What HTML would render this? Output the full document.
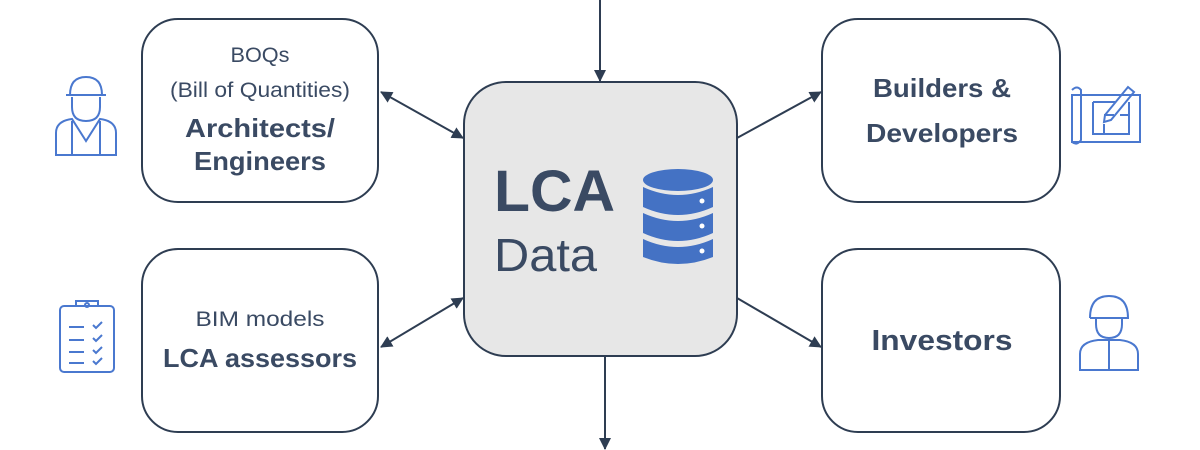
<!DOCTYPE html>
<html><head><meta charset="utf-8"><style>
html,body{margin:0;padding:0;background:#fff;}
svg{display:block;}
text{font-family:"Liberation Sans",sans-serif;fill:#3a4a63;}
</style></head><body>
<svg width="1200" height="450" viewBox="0 0 1200 450" xmlns="http://www.w3.org/2000/svg">
<defs>
<marker id="a" markerWidth="12" markerHeight="12" refX="11" refY="6" orient="auto-start-reverse" markerUnits="userSpaceOnUse">
<path d="M0,0 L12,6 L0,12 z" fill="#2e3d52"/></marker>
</defs>
<g stroke="#2e3d52" stroke-width="2" fill="none">
<rect x="142" y="19" width="236" height="183" rx="36" fill="#fff"/>
<rect x="142" y="249" width="236" height="183" rx="36" fill="#fff"/>
<rect x="822" y="19" width="238" height="183" rx="36" fill="#fff"/>
<rect x="822" y="249" width="238" height="183" rx="36" fill="#fff"/>
<rect x="464" y="82" width="273" height="274" rx="42" fill="#e7e7e7"/>
<line x1="600" y1="0" x2="600" y2="81" marker-end="url(#a)"/>
<line x1="605" y1="356" x2="605" y2="449" marker-end="url(#a)"/>
<line x1="381" y1="92" x2="463" y2="138" marker-start="url(#a)" marker-end="url(#a)"/>
<line x1="381" y1="347" x2="463" y2="298" marker-start="url(#a)" marker-end="url(#a)"/>
<line x1="737" y1="138" x2="821" y2="92" marker-end="url(#a)"/>
<line x1="737" y1="298" x2="821" y2="347" marker-end="url(#a)"/>
</g>
<g text-anchor="middle">
<text x="260" y="62" font-size="21" textLength="59" lengthAdjust="spacingAndGlyphs">BOQs</text>
<text x="260" y="97" font-size="21" textLength="180" lengthAdjust="spacingAndGlyphs">(Bill of Quantities)</text>
<text x="260" y="137" font-size="26" font-weight="bold" textLength="150" lengthAdjust="spacingAndGlyphs">Architects/</text>
<text x="260" y="170" font-size="26" font-weight="bold" textLength="132" lengthAdjust="spacingAndGlyphs">Engineers</text>
<text x="260" y="326" font-size="21" textLength="129" lengthAdjust="spacingAndGlyphs">BIM models</text>
<text x="260" y="367" font-size="26" font-weight="bold" textLength="194" lengthAdjust="spacingAndGlyphs">LCA assessors</text>
<text x="942" y="97" font-size="26" font-weight="bold" textLength="138" lengthAdjust="spacingAndGlyphs">Builders &amp;</text>
<text x="942" y="142" font-size="26" font-weight="bold" textLength="152" lengthAdjust="spacingAndGlyphs">Developers</text>
<text x="942" y="350" font-size="29" font-weight="bold" textLength="141" lengthAdjust="spacingAndGlyphs">Investors</text>
</g>
<text x="494" y="211" font-size="58" font-weight="bold" textLength="121" lengthAdjust="spacingAndGlyphs">LCA</text>
<text x="494" y="271" font-size="46" textLength="103" lengthAdjust="spacingAndGlyphs">Data</text>
<g fill="#4472c4">
<ellipse cx="678" cy="180" rx="35" ry="11"/>
<path d="M643,187 q35,16 70,0 v20 q-35,16 -70,0z"/>
<path d="M643,213 q35,16 70,0 v20 q-35,16 -70,0z"/>
<path d="M643,239 q35,16 70,0 v18 q-35,14 -70,0z"/>
</g>
<g fill="#fff"><circle cx="702" cy="201" r="2.5"/><circle cx="702" cy="226" r="2.5"/><circle cx="702" cy="251" r="2.5"/></g>
<g stroke="#4a78cf" stroke-width="2" fill="none">
<path d="M70,95 q0,-18 16,-18 q16,0 16,18 M66,95 h40"/>
<path d="M72,97 v10 q0,14 14,14 q14,0 14,-14 v-10"/>
<path d="M56,155 v-22 q0,-12 16,-14 l14,22 l14,-22 q16,2 16,14 v22 z M72,121 v34 M100,121 v34"/>
<rect x="60" y="306" width="54" height="66" rx="4"/>
<path d="M76,306 v-5 h22 v5"/><circle cx="87" cy="305" r="2"/>
<path d="M69,327 h15 M69,340 h15 M69,352 h15 M69,363 h15 M93,325 l3,3 l6,-6 M93,338 l3,3 l6,-6 M93,350 l3,3 l6,-6 M93,361 l3,3 l6,-6"/>
<rect x="1072" y="95" width="68" height="47"/>
<path d="M1072,90 q5,-5 9,0 v50 q-4,6 -9,2"/>
<path d="M1093,102 h22 M1093,102 v32 h36 v-32 M1104,115 h10 M1120,115 h9 M1104,124 v10"/>
<path d="M1105,115 l23,-28 l6,5 l-23,28 l-7,2 z"/>
<path d="M1090,318 q0,-22 19,-22 q19,0 19,22 h-38 M1096,318 v6 q0,14 13,14 q13,0 13,-14 v-6"/>
<path d="M1080,370 v-16 q0,-12 18,-14 h22 q18,2 18,14 v16 z M1109,340 v30"/>
</g>
</svg>
</body></html>
